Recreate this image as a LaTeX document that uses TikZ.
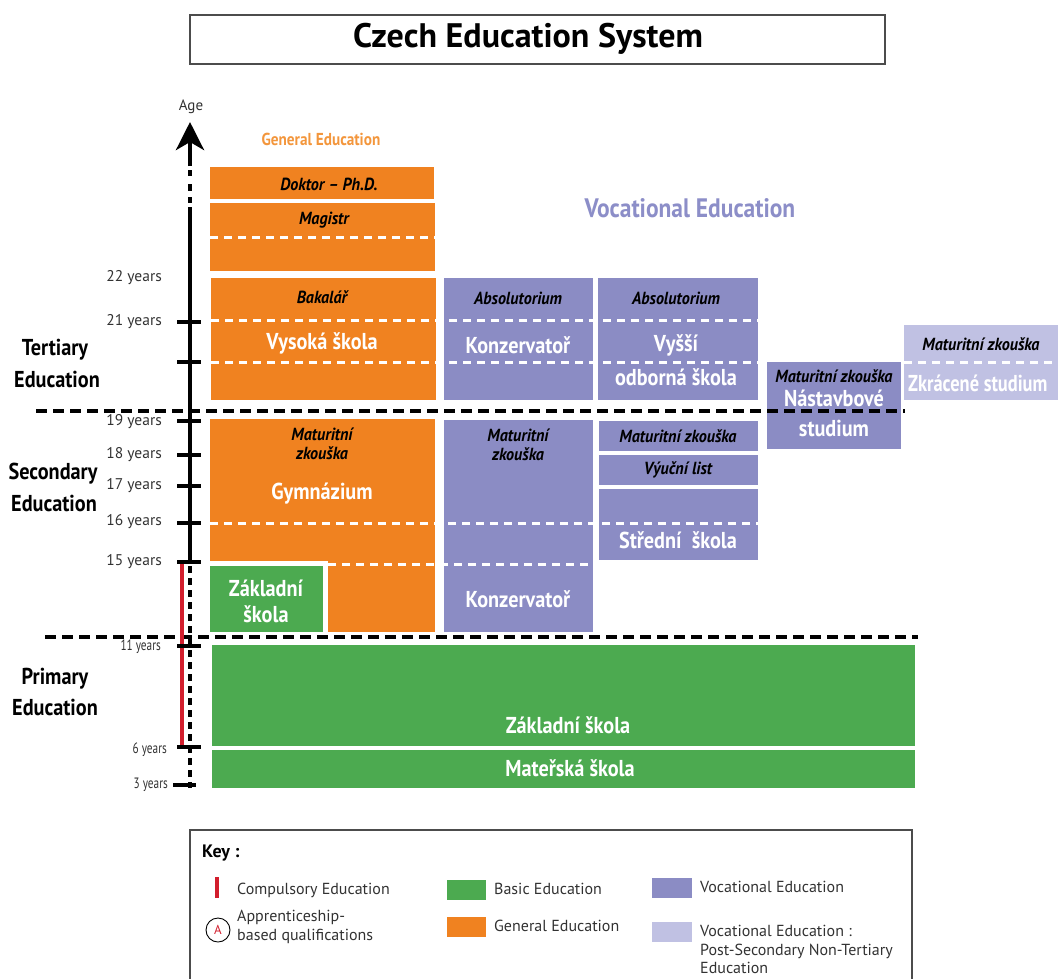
\documentclass[tikz,border=0pt]{standalone}
\usepackage{fontspec}
\setmainfont{PT Sans}
\newfontfamily\cond{PT Sans}[FakeStretch=0.88]
\newfontfamily\icond{PT Sans}[FakeStretch=0.92]
\newfontfamily\zcond{PT Sans}[FakeStretch=0.8]
\newfontfamily\ccond{PT Sans}[FakeStretch=0.75]
\usetikzlibrary{arrows.meta}
\definecolor{orangeG}{RGB}{240,130,32}
\definecolor{greenB}{RGB}{76,170,80}
\definecolor{voc}{RGB}{139,140,196}
\definecolor{vocl}{RGB}{192,193,227}
\definecolor{redC}{RGB}{210,30,45}
\definecolor{orangeT}{RGB}{243,150,60}
\definecolor{vocT}{RGB}{140,142,200}
\definecolor{keyT}{RGB}{50,50,50}
\tikzset{
 wlab/.style={text=white, font=\cond\bfseries\fontsize{23}{24}\selectfont, inner sep=0},
 ilab/.style={text=black, font=\icond\bfseries\itshape\fontsize{17.5}{18.5}\selectfont, inner sep=0},
 seclab/.style={text=black, font=\cond\bfseries\fontsize{23}{24}\selectfont, inner sep=0},
 agelab/.style={anchor=east, text=keyT, font=\fontsize{15.5}{16}\selectfont, inner sep=0},
 agelabs/.style={anchor=east, text=keyT, font=\ccond\fontsize{15}{16}\selectfont, inner sep=0},
 keylab/.style={anchor=west, text=keyT, font=\fontsize{16}{18.7}\selectfont, inner sep=0, align=left},
 agetick/.style={line width=3.5pt},
 wdash/.style={white, line width=3pt, dash pattern=on 8pt off 6pt},
 bdash/.style={black, line width=4pt, dash pattern=on 11pt off 6pt},
}
\begin{document}
\begin{tikzpicture}[x=1pt,y=-1pt]
\useasboundingbox (0,0) rectangle (1058,978);
% title
\draw[gray!60!black, line width=1.2pt] (190,15) rectangle (885,64);
\node[inner sep=0, font=\bfseries\fontsize{34}{35}\selectfont] (title) at (528,39) {Czech Education System};
% headers
\node[inner sep=0, text=orangeT, font=\cond\bfseries\fontsize{17.3}{18}\selectfont] (hgen) at (321,139) {General Education};
\node[inner sep=0, text=vocT, font=\cond\bfseries\fontsize{26.7}{27}\selectfont] (hvoc) at (690,208) {Vocational Education};
% general column
\fill[orangeG] (210,167) rectangle (434,199);
\fill[orangeG] (210,203) rectangle (435,271);
\fill[orangeG] (211,278) rectangle (436,400);
\fill[orangeG] (210,419) rectangle (435,632);
\fill[white] (205,561) rectangle (328,640);
\fill[greenB] (210,566) rectangle (323,632);
% vocational
\fill[voc] (444,278) rectangle (593,400);
\fill[voc] (598,278) rectangle (758,400);
\fill[voc] (767,362) rectangle (901,449);
\fill[vocl] (904,325) rectangle (1060,400);
\fill[voc] (444,420) rectangle (593,632);
\fill[voc] (599,421) rectangle (758,451);
\fill[voc] (599,455) rectangle (758,485);
\fill[voc] (599,489) rectangle (758,560);
% primary
\fill[greenB] (212,645) rectangle (915,746);
\fill[greenB] (212,750) rectangle (915,788);
% white dashed
\draw[wdash] (210,237) -- (435,237);
\draw[wdash] (211,320) -- (758,320);
\draw[wdash] (211,362) -- (758,362);
\draw[wdash] (904,362) -- (1060,362);
\draw[wdash] (210,523) -- (758,523);
\draw[wdash] (328,564) -- (593,564);
% labels in boxes
\node[ilab] (doktor) at (329,184) {Doktor – Ph.D.};
\node[ilab] (magistr) at (324,220) {Magistr};
\node[ilab] (bak) at (322,297) {Bakalář};
\node[wlab] (vs) at (322,343) {Vysoká škola};
\node[ilab] (abs1) at (518,298) {Absolutorium};
\node[wlab] (konz1) at (518,345) {Konzervatoř};
\node[ilab] (abs2) at (676,298) {Absolutorium};
\node[wlab] (vyssi) at (676,345) {Vyšší};
\node[wlab] (obs) at (676,377) {odborná škola};
\node[ilab] (mz1) at (834,376) {Maturitní zkouška};
\node[wlab] (nast) at (834,398) {Nástavbové};
\node[wlab] (stud) at (834,428) {studium};
\node[ilab] (mz2) at (981,344) {Maturitní zkouška};
\node[wlab, font=\zcond\bfseries\fontsize{23}{24}\selectfont, anchor=west] (zkr) at (908,383) {Zkrácené studium};
\node[ilab, align=center] (mz3) at (322,444) {Maturitní\\[1pt]zkouška};
\node[wlab] (gym) at (322,494) {Gymnázium};
\node[wlab, align=center] (zs1) at (266,601) {Základní\\[2pt]škola};
\node[ilab, align=center] (mz4) at (518,445) {Maturitní\\[1pt]zkouška};
\node[wlab] (konz2) at (518,599) {Konzervatoř};
\node[ilab] (mz5) at (678,436) {Maturitní zkouška};
\node[ilab] (vl) at (678,470) {Výuční list};
\node[wlab] (ss) at (678,540) {Střední~ škola};
\node[wlab] (zs2) at (568,725) {Základní škola};
\node[wlab] (ms) at (570,768) {Mateřská škola};
% black dashed section lines
\draw[bdash] (36,411) -- (905,411);
\draw[bdash] (45,637) -- (918,637);
% axis
\draw[line width=4.5pt, -{Stealth[length=28pt,width=28pt,inset=8pt]}] (190,166) -- (190,122);
\draw[line width=4.5pt] (190,170) -- (190,176) (190,184) -- (190,191) (190,197) -- (190,203);
\draw[line width=4.5pt] (190,207) -- (190,562);
\draw[line width=4pt, dash pattern=on 7pt off 5pt] (190,566) -- (190,788);
\draw[redC, line width=4pt] (182,562) -- (182,747);
\foreach \yy in {322,362,421,455,486,523,562,646,747}{\draw[agetick] (177,\yy) -- (201,\yy);}
\draw[agetick] (173,785) -- (196,785);
\node[inner sep=0, font=\fontsize{15}{16}\selectfont, text=keyT] (age) at (191,107) {Age};
\node[agelab] (a22) at (162,278) {22 years};
\node[agelab] (a21) at (162,322) {21 years};
\node[agelab] (a19) at (162,422) {19 years};
\node[agelab] (a18) at (162,455) {18 years};
\node[agelab] (a17) at (162,486) {17 years};
\node[agelab] (a16) at (162,522) {16 years};
\node[agelab] (a15) at (162,562) {15 years};
\node[agelabs] (a11) at (161,647) {11 years};
\node[agelabs] (a6) at (167,750) {6 years};
\node[agelabs] (a3) at (168,785) {3 years};
% section labels
\node[seclab] (ter1) at (55,350) {Tertiary};
\node[seclab] (ter2) at (57,379) {Education};
\node[seclab] (sec1) at (53,474) {Secondary};
\node[seclab] (sec2) at (54,503) {Education};
\node[seclab] (pri1) at (55,679) {Primary};
\node[seclab] (pri2) at (55,707) {Education};
% key
\draw[gray!60!black, line width=1.2pt] (190,830) rectangle (912,1000);
\node[inner sep=0, anchor=west, font=\bfseries\fontsize{18}{19}\selectfont] (key) at (202,853) {Key :};
\draw[redC, line width=3.5pt] (217,877) -- (217,898);
\node[keylab] (kc) at (237,890) {Compulsory Education};
\draw[line width=0.9pt] (218,930) circle (12);
\node[inner sep=0, text=redC, font=\fontsize{13}{14}\selectfont] (ka) at (218,930) {A};
\node[keylab] (kapp) at (237,927) {Apprenticeship-\\based qualifications};
\fill[greenB] (447,880) rectangle (486,900);
\node[keylab] (kb) at (494,889) {Basic Education};
\fill[orangeG] (447,917) rectangle (486,937);
\node[keylab] (kg) at (494,926) {General Education};
\fill[voc] (652,878) rectangle (692,898);
\node[keylab] (kv) at (700,887) {Vocational Education};
\fill[vocl] (652,922) rectangle (692,942);
\node[keylab] (kvl) at (700,949.5) {Vocational Education :\\Post-Secondary Non-Tertiary\\Education};
\end{tikzpicture}
\end{document}
